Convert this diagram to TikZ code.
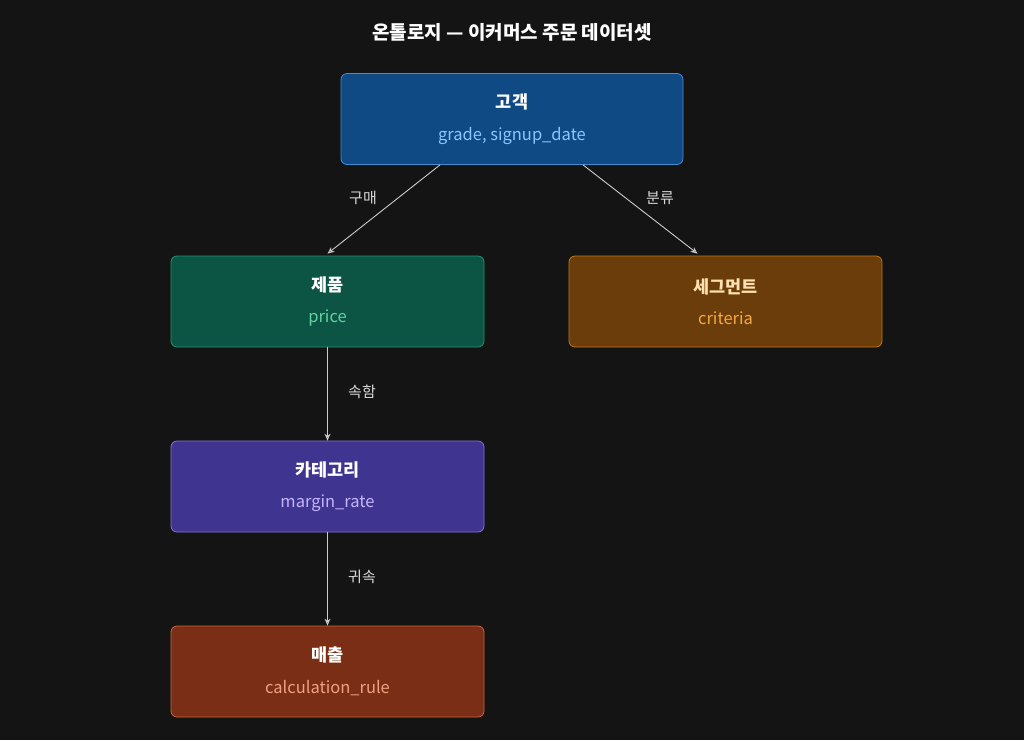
\documentclass[tikz,border=0pt]{standalone}
\usepackage{fontspec}
\setmainfont{Noto Sans CJK KR}
\usetikzlibrary{calc,arrows.meta}
\definecolor{bg}{HTML}{141414}
\definecolor{cf}{HTML}{0F4A85}\definecolor{cd}{HTML}{468CD2}\definecolor{cs}{HTML}{8EC5FF}
\definecolor{pf}{HTML}{0C5443}\definecolor{pd}{HTML}{1E966E}\definecolor{ps}{HTML}{5FD4A0}
\definecolor{sf}{HTML}{6B3D0A}\definecolor{sd}{HTML}{BE781E}\definecolor{ss}{HTML}{F5A742}\definecolor{st}{HTML}{FFE0B0}
\definecolor{kf}{HTML}{3F3590}\definecolor{kd}{HTML}{8273DC}\definecolor{ks}{HTML}{C4B5FD}
\definecolor{mf}{HTML}{7A2E16}\definecolor{md}{HTML}{C86446}\definecolor{ms}{HTML}{F0A080}
\tikzset{
  box/.style={draw, rounded corners=6pt, minimum width=313pt, minimum height=91pt, line width=0.8pt, align=center},
  edge/.style={draw=white!80!black, line width=0.9pt, -{Stealth[length=7pt,width=6pt,open]}},
  lbl/.style={text=white!85!black, font=\fontsize{15}{17}\selectfont, fill=bg, inner sep=2pt}
}
\newcommand{\bxx}[4]{{\fontsize{17.5}{20}\selectfont\bfseries\color{#1}#2}\\[16pt]{\fontsize{16.5}{19}\selectfont\color{#3}#4}}
\begin{document}
\begin{tikzpicture}[x=1pt,y=-1pt]
\fill[bg] (0,0) rectangle (1024,740);
\useasboundingbox (0,0) rectangle (1024,740);
\node[text=white, font=\fontsize{19}{21}\selectfont\bfseries] (title) at (512,32) {온톨로지 — 이커머스 주문 데이터셋};
\node[box, minimum width=342pt, fill=cf, draw=cd] (c) at (512,119) {\bxx{white}{고객}{cs}{grade, signup\_date}};
\node[box, fill=pf, draw=pd] (p) at (327.5,301.5) {\bxx{white}{제품}{ps}{price}};
\node[box, fill=sf, draw=sd] (s) at (725.5,301.5) {\bxx{st}{세그먼트}{ss}{criteria}};
\node[box, fill=kf, draw=kd] (k) at (327.5,486.5) {\bxx{white}{카테고리}{ks}{margin\_rate}};
\node[box, fill=mf, draw=md] (m) at (327.5,671.5) {\bxx{white}{매출}{ms}{calculation\_rule}};
\coordinate (c1) at ($(c.south)+(-72,0)$);
\coordinate (c2) at ($(c.south)+(71,0)$);
\coordinate (pt) at ($(p.north)+(0,-2)$);
\coordinate (stt) at ($(s.north)+(-28,-2)$);
\draw[edge] (c1) -- (pt);
\draw[edge] (c2) -- (stt);
\draw[edge] (p.south) -- (k.north);
\draw[edge] (k.south) -- (m.north);
\node[lbl] (l1) at (363,198) {구매};
\node[lbl] (l2) at (660,198) {분류};
\node[lbl] (l3) at (362,392) {속함};
\node[lbl] (l4) at (362,577) {귀속};
\end{tikzpicture}
\end{document}
